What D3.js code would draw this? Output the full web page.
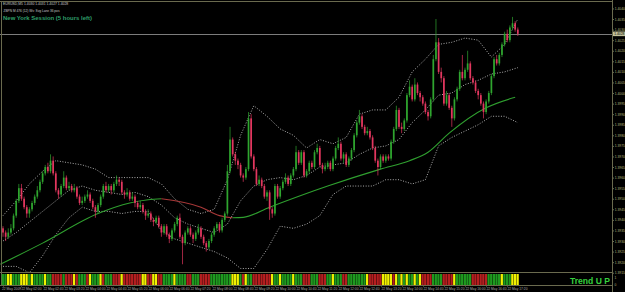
<!DOCTYPE html>
<html><head><meta charset="utf-8">
<script src="https://cdn.jsdelivr.net/npm/d3@7"></script>
<style>
html,body{margin:0;padding:0;background:#000;overflow:hidden;}
svg{display:block;}
text{font-family:"Liberation Sans",Arial,sans-serif;}
</style></head><body>
<div class="canvas"></div>
<script>
// prices in pips (1.4028 -> 14028), EURUSD M5, 22 May 2009
const firstOpen = 13936;
const close = [
13934,13932,13934,13936,13942,13949,13955,13950,13946,13943,
13945,13948,13951,13954,13958,13962,13965,13963,13968,13962,
13954,13952,13956,13960,13955,13956,13954,13955,13951,13948,
13949,13951,13952,13949,13946,13944,13947,13951,13956,13954,
13956,13954,13957,13959,13958,13953,13952,13953,13950,13951,
13948,13946,13947,13944,13942,13943,13940,13939,13941,13937,
13934,13937,13933,13931,13935,13938,13941,13932,13929,13934,
13936,13933,13931,13934,13936,13932,13929,13927,13930,13933,
13936,13938,13935,13940,13943,13963,13978,13971,13968,13966,
13961,13960,13964,13988,13970,13964,13957,13959,13956,13951,
13953,13945,13943,13956,13951,13955,13958,13960,13957,13961,
13964,13972,13967,13972,13961,13963,13967,13965,13972,13974,
13966,13964,13965,13967,13964,13969,13974,13976,13969,13971,
13966,13969,13973,13980,13986,13989,13984,13981,13982,13979,
13974,13968,13965,13970,13968,13970,13969,13977,13983,13992,
13984,13983,13987,13999,14003,13997,14004,14000,13998,13995,
13991,13989,13997,14016,14024,14010,14007,13995,13999,13993,
13988,13997,14002,14010,14007,14011,14014,14007,14005,14001,
13999,13995,13991,13996,14000,14008,14016,14014,14018,14023,
14028,14025,14031,14033,14030,14028];
const high = [
13937,13935,13936,13938,13943,13950,13957,13957,13951,13947,
13946,13949,13952,13956,13959,13963,13966,13967,13971,13970,
13963,13955,13957,13963,13961,13958,13957,13957,13956,13952,
13951,13952,13954,13953,13950,13947,13948,13952,13957,13958,
13957,13957,13958,13961,13960,13959,13954,13955,13954,13953,
13952,13949,13949,13948,13945,13945,13944,13941,13942,13942,
13938,13938,13938,13934,13936,13939,13942,13943,13933,13935,
13937,13937,13934,13935,13938,13937,13933,13930,13931,13934,
13937,13939,13939,13941,13944,13966,13984,13979,13972,13969,
13967,13962,13965,13991,13990,13971,13965,13961,13960,13957,
13954,13954,13946,13957,13957,13956,13959,13962,13961,13962,
13965,13975,13973,13973,13973,13964,13968,13968,13973,13976,
13975,13967,13967,13968,13968,13970,13975,13979,13977,13972,
13972,13970,13974,13981,13987,13992,13990,13985,13984,13983,
13980,13975,13969,13971,13971,13971,13971,13978,13984,13994,
13993,13986,13988,14000,14006,14004,14007,14005,14001,13999,
13996,13992,13998,14018,14035,14026,14012,14008,14001,14000,
13994,13998,14003,14011,14018,14012,14020,14015,14008,14006,
14002,14000,13996,13997,14001,14009,14017,14018,14019,14024,
14029,14030,14032,14036,14034,14031];
const low = [
13932,13930,13931,13933,13935,13941,13948,13949,13945,13941,
13941,13944,13947,13950,13953,13957,13961,13962,13962,13961,
13953,13950,13951,13955,13954,13954,13953,13953,13950,13947,
13947,13948,13950,13948,13945,13941,13943,13946,13950,13953,
13953,13952,13953,13956,13956,13952,13950,13951,13949,13949,
13946,13945,13945,13943,13940,13941,13939,13937,13938,13936,
13932,13933,13932,13929,13930,13934,13937,13931,13919,13928,
13933,13932,13929,13930,13933,13931,13928,13925,13926,13929,
13932,13935,13934,13934,13939,13942,13962,13970,13966,13964,
13960,13958,13959,13963,13969,13963,13956,13956,13955,13950,
13949,13940,13941,13942,13950,13950,13954,13957,13956,13956,
13960,13963,13966,13966,13960,13960,13962,13964,13964,13971,
13965,13962,13963,13964,13963,13963,13968,13973,13968,13967,
13965,13965,13968,13972,13979,13985,13983,13980,13980,13978,
13973,13967,13961,13964,13967,13967,13968,13968,13976,13982,
13983,13981,13982,13986,13998,13996,13996,13999,13996,13994,
13990,13987,13988,13996,14015,14009,14005,13994,13994,13992,
13984,13987,13996,14001,14006,14006,14010,14006,14004,14000,
13997,13994,13988,13990,13995,13999,14007,14013,14013,14017,
14022,14024,14024,14030,14029,14027];

// trend bar colours per candle: g = up, r = down, y = flat
const trend = (
"ggyygggyyy" + "gyggggyggr" + "rrrgrrryrg" + "ggrygggyrg" + "ggrrryrrrr" +
"rrryyrryyr" + "rggggygggg" + "rrgggrrrrg" + "gggggggyyy" + "gryggrrrrr" +
"rryggygggg" + "ygggrrrggg" + "rrrggygggr" + "rgggggggyr" + "rrrryyyyry" +
"gygyggygyr" + "rrrggggrrr" + "ryggggggrr" + "rrrrgggggy" + "gggyyy").split("");

// bollinger bands (candle index, pips)
const bandIdx = [0,5,10,15,20,25,30,35,40,45,50,55,60,65,70,75,80,85,90,95,
                 100,105,110,115,120,125,130,135,140,145,150,155,160,165,170,175,180,185,190,195];
const upper  = [13942,13949,13957,13963,13968,13967,13966,13964,13960,13960,13960,13960,13957,13950,13945,13943,13945,13959,13980,13994,
                13989,13983,13980,13974,13978,13976,13979,13990,13992,13992,13998,14010,14016,14023,14024,14026,14025,14017,14023,14035];
const middle = [13930,13934,13939,13944,13949,13954,13956,13954,13953,13952,13953,13951,13947,13941,13938,13936,13934,13938,13949,13956,
                13959,13960,13959,13961,13965,13966,13967,13971,13974,13975,13978,13986,13992,13999,14000,14004,14006,14009,14010,14012];
const lower  = [13918,13918,13915,13923,13933,13941,13946,13944,13944,13943,13944,13944,13935,13931,13929,13927,13925,13922,13917,13917,
                13926,13937,13936,13938,13942,13952,13956,13956,13956,13959,13959,13957,13959,13975,13979,13982,13985,13989,13989,13986];

// long moving average (coloured by slope)
const maIdx = [-1,15,36,48,55,60,75,82,87,91,101,123,143,154,161,169,183,194];
const maVal = [13919,13929,13943,13948,13949.5,13950,13946,13942,13941,13941.2,13946,13956,13964,13968,13972,13981,13993,13998];

const priceTicks = [13915,13920,13925,13930,13935,13940,13945,13950,13955,13960,13965,13970,13975,
                    13980,13985,13990,13995,14000,14005,14010,14015,14020,14025,14030,14035,14040];
const timeIdx = [0,7,15,23,31,39,47,55,63,71,79,87,95,103,111,119,127,135,143,151,159,167,175,183,191];
const timeLabels = ["22 May 2009","22 May 02:00","22 May 02:40","22 May 03:20","22 May 04:00","22 May 04:40",
  "22 May 05:20","22 May 06:00","22 May 06:40","22 May 07:20","22 May 08:00","22 May 08:40","22 May 09:20",
  "22 May 10:00","22 May 10:40","22 May 11:20","22 May 12:00","22 May 12:40","22 May 13:20","22 May 14:00",
  "22 May 14:40","22 May 15:20","22 May 16:00","22 May 16:40","22 May 17:20"];

const W = 625, H = 292;
const plot = {right: 612, bottom: 272};
const frame = '#6a6a4e';
const bullCol = '#2fa52f', bearCol = '#e2375f';
const trendCol = {g: '#1f9a1f', r: '#b51f1f', y: '#f2f200'};

const svg = d3.select('.canvas').append('svg')
  .attr('width', W).attr('height', H)
  .style('background', '#000');

const x = d3.scaleLinear().domain([0, close.length - 1]).range([3, 517.8]);
const step = x(1) - x(0);
const y = d3.scaleLinear().domain([13915.34, 14044]).range([plot.bottom, 0]);

svg.append('clipPath').attr('id', 'clip')
  .append('rect').attr('x', 0).attr('y', 0).attr('width', plot.right).attr('height', plot.bottom);

const chart = svg.append('g').attr('clip-path', 'url(#clip)');

// bid line
const last = close[close.length - 1];
chart.append('line')
  .attr('x1', 0).attr('x2', plot.right)
  .attr('y1', Math.round(y(last)) + 0.5).attr('y2', Math.round(y(last)) + 0.5)
  .attr('stroke', '#9c9c9c').attr('stroke-width', 0.8);

// bands
const bandLine = vals => d3.line()
  .x((d, k) => x(bandIdx[k]))
  .y(d => y(d))(vals);
[upper, middle, lower].forEach(vals => {
  chart.append('path')
    .attr('d', bandLine(vals))
    .attr('fill', 'none')
    .attr('stroke', '#d8d8d8')
    .attr('stroke-width', 0.8)
    .attr('stroke-dasharray', '1,1.6');
});

// moving average, split into rising / falling runs
const maPts = maIdx.map((d, k) => ({i: d, v: maVal[k]}));
const runs = [];
let cur = [maPts[0]], curUp = maPts[1].v >= maPts[0].v;
for (let k = 1; k < maPts.length; k++) {
  const up = maPts[k].v >= maPts[k - 1].v;
  if (up !== curUp) {
    runs.push({up: curUp, pts: cur});
    cur = [maPts[k - 1]];
    curUp = up;
  }
  cur.push(maPts[k]);
}
runs.push({up: curUp, pts: cur});
const maLine = d3.line().x(d => x(d.i)).y(d => y(d.v)).curve(d3.curveMonotoneX);
runs.forEach(r => {
  chart.append('path')
    .attr('d', maLine(r.pts))
    .attr('fill', 'none')
    .attr('stroke', r.up ? '#2f9f2f' : '#a83838')
    .attr('stroke-width', 1.1);
});

// candles
const bars = close.map((c, i) => ({
  i, o: i ? close[i - 1] : firstOpen, c, h: high[i], l: low[i]
}));
const candle = chart.selectAll('g.candle').data(bars).enter().append('g');
candle.append('line')
  .attr('x1', d => x(d.i)).attr('x2', d => x(d.i))
  .attr('y1', d => y(d.h)).attr('y2', d => y(d.l))
  .attr('stroke', d => d.c >= d.o ? bullCol : bearCol)
  .attr('stroke-width', 0.7);
candle.append('rect')
  .attr('x', d => x(d.i) - 0.85)
  .attr('width', 1.7)
  .attr('y', d => y(Math.max(d.o, d.c)))
  .attr('height', d => Math.max(0.8, Math.abs(y(d.o) - y(d.c))))
  .attr('fill', d => d.c >= d.o ? bullCol : bearCol);

// frame
svg.append('line').attr('x1', 0).attr('x2', plot.right).attr('y1', 1.5).attr('y2', 1.5).attr('stroke', frame);
svg.append('line').attr('x1', 1.5).attr('x2', 1.5).attr('y1', 1).attr('y2', 286).attr('stroke', frame);
svg.append('line').attr('x1', 0).attr('x2', plot.right).attr('y1', 272.5).attr('y2', 272.5).attr('stroke', frame);
svg.append('line').attr('x1', 0).attr('x2', plot.right).attr('y1', 285.5).attr('y2', 285.5).attr('stroke', frame);

// price axis
const axis = svg.append('g')
  .attr('transform', `translate(${plot.right + 0.5},0)`)
  .call(d3.axisRight(y).tickValues(priceTicks).tickSize(1.5).tickPadding(0.8)
        .tickFormat(d => (d / 10000).toFixed(4)));
axis.select('.domain').attr('stroke', frame).attr('d', 'M0,0V292');
axis.selectAll('.tick line').attr('stroke', frame);
axis.selectAll('.tick text').attr('fill', '#b9b97c').attr('font-size', 3.3)
  .attr('textLength', 10).attr('lengthAdjust', 'spacingAndGlyphs');

// current price tag
svg.append('rect')
  .attr('x', plot.right + 1).attr('y', y(last) - 2.3)
  .attr('width', 12.5).attr('height', 4.6).attr('fill', '#c2c29a');
svg.append('text')
  .attr('x', plot.right + 2.3).attr('y', y(last) + 1.3)
  .attr('font-size', 3.3).attr('fill', '#000')
  .attr('textLength', 10).attr('lengthAdjust', 'spacingAndGlyphs')
  .text((last / 10000).toFixed(4));

// trend panel
svg.append('g').selectAll('rect').data(trend).enter().append('rect')
  .attr('x', (d, i) => x(i) - step / 2)
  .attr('y', 274)
  .attr('width', step - 0.35)
  .attr('height', 11)
  .attr('fill', d => trendCol[d]);
svg.append('text').attr('x', 614.5).attr('y', 278.5).attr('font-size', 3.3).attr('fill', '#b9b97c').text('1');
svg.append('text').attr('x', 614.5).attr('y', 285.5).attr('font-size', 3.3).attr('fill', '#b9b97c').text('0');
svg.append('text')
  .attr('x', 570).attr('y', 284.3)
  .attr('font-size', 8.8).attr('font-weight', 'bold')
  .attr('fill', '#36d13e')
  .attr('textLength', 40).attr('lengthAdjust', 'spacingAndGlyphs')
  .text('Trend U P');

// time axis
const tl = svg.append('g');
timeIdx.forEach((ti, k) => {
  const px = Math.round(x(ti)) + 0.5;
  tl.append('line').attr('x1', px).attr('x2', px).attr('y1', 285.5).attr('y2', 287)
    .attr('stroke', frame).attr('stroke-width', 0.6);
  tl.append('text').attr('x', px - (k ? 0 : 1.5)).attr('y', 290.3)
    .attr('font-size', 3.3).attr('fill', '#b0b0b0')
    .text(timeLabels[k]);
});

// header texts
svg.append('text').attr('x', 3).attr('y', 5.2).attr('font-size', 3.4).attr('fill', '#c8c8c8')
  .text(`EURUSD,M5  ${(bars[195].o / 10000).toFixed(4)} ${(high[195] / 10000).toFixed(4)} ${(low[195] / 10000).toFixed(4)} ${(last / 10000).toFixed(4)}`);
svg.append('text').attr('x', 3.5).attr('y', 11.5).attr('font-size', 3.2).attr('fill', '#c8c8c8')
  .text('ZBPN M 476 (12)     Ws: Svg Lane     36 pos');
svg.append('text')
  .attr('x', 3).attr('y', 20.3)
  .attr('font-size', 6.2).attr('font-weight', 'bold')
  .attr('fill', '#2f9e6a')
  .attr('textLength', 89).attr('lengthAdjust', 'spacingAndGlyphs')
  .text('New York Session (5 hours left)');
</script>
</body></html>
